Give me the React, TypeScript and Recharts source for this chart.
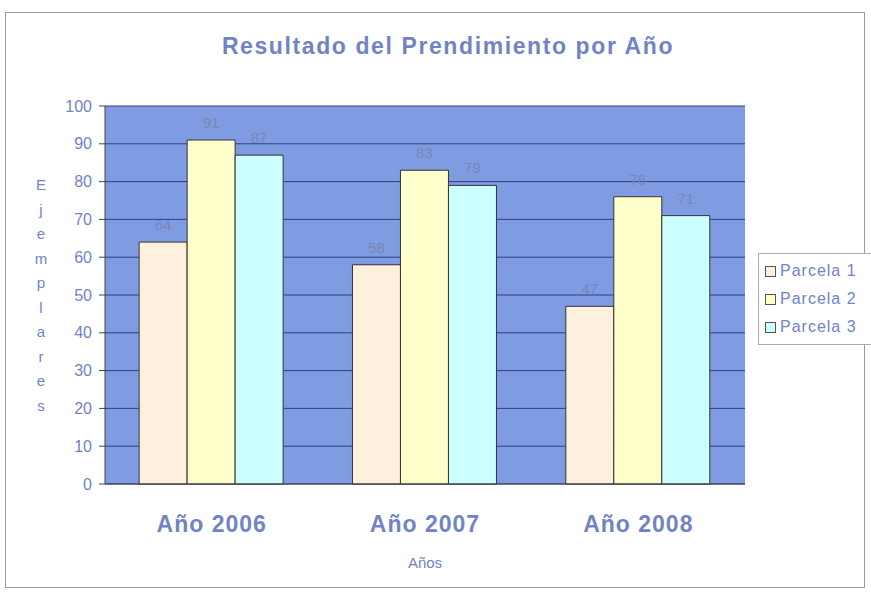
import React from "react";
import { BarChart, Bar, XAxis, YAxis, CartesianGrid, LabelList, Label } from "recharts";

const categories = ["Año 2006", "Año 2007", "Año 2008"];
const parcela1 = [64, 58, 47];
const parcela2 = [91, 83, 76];
const parcela3 = [87, 79, 71];
const yTicks = [0, 10, 20, 30, 40, 50, 60, 70, 80, 90, 100];
const seriesNames = ["Parcela 1", "Parcela 2", "Parcela 3"];
const seriesColors = ["#fdf1de", "#ffffcc", "#ccffff"];
const yTitle = "Ejemplares";

const data = categories.map((c, i) => ({
  name: c,
  p1: parcela1[i],
  p2: parcela2[i],
  p3: parcela3[i],
}));

const textBlue = "#7283c4";
const font = "Arial, 'Liberation Sans', sans-serif";

const VerticalLetters = () => {
  const letters = yTitle.split("");
  const x = 41;
  const startY = 190;
  const step = 24.5;
  return (
    <g>
      {letters.map((ch, i) => (
        <text key={i} x={x} y={startY + i * step} textAnchor="middle" fill={textBlue} fontSize={15} fontFamily={font}>
          {ch}
        </text>
      ))}
    </g>
  );
};

const LegendBox = () => (
  <div
    style={{
      position: "absolute",
      left: 758,
      top: 253,
      width: 120,
      border: "1px solid #aaaaaa",
      background: "#ffffff",
      padding: "3px 0 3px 6px",
      boxSizing: "border-box",
    }}
  >
    {seriesNames.map((n, i) => (
      <div key={n} style={{ display: "flex", alignItems: "center", height: 28, fontFamily: font, fontSize: 16, color: textBlue, letterSpacing: 1, whiteSpace: "nowrap" }}>
        <span style={{ display: "inline-block", width: 9, height: 9, border: "1px solid #555", background: seriesColors[i], marginRight: 4 }} />
        {n}
      </div>
    ))}
  </div>
);

export default function App() {
  return (
    <div style={{ position: "absolute", left: 0, top: 0, width: 871, height: 593, background: "#fff", overflow: "hidden" }}>
      <div style={{ position: "absolute", left: 5, top: 12, width: 858, height: 574, border: "1px solid #9a9a9a" }} />
      <div
        style={{
          position: "absolute",
          left: 0,
          top: 33,
          width: 896,
          textAlign: "center",
          fontFamily: font,
          fontWeight: "bold",
          fontSize: 23,
          color: textBlue,
          letterSpacing: 1.6,
        }}
      >
        Resultado del Prendimiento por Año
      </div>
      <BarChart
        width={871}
        height={593}
        data={data}
        margin={{ top: 106, right: 126, bottom: 79, left: 45 }}
        barCategoryGap="16%"
        barGap={0}
        style={{ position: "absolute", left: 0, top: 0 }}
      >
        <CartesianGrid vertical={false} fill="#7f9be2" stroke="#2e3f86" strokeWidth={1} />
        <XAxis
          dataKey="name"
          height={30}
          axisLine={{ stroke: "#444" }}
          tickLine={false}
          tick={{ fill: textBlue, fontSize: 23, fontWeight: "bold", fontFamily: font, letterSpacing: 1 }}
          tickMargin={26}
        >
          <Label value="Años" position="bottom" offset={43} fill={textBlue} fontSize={15} fontFamily={font} />
        </XAxis>
        <YAxis
          domain={[0, 100]}
          ticks={yTicks}
          width={60}
          axisLine={{ stroke: "#444" }}
          tickLine={{ stroke: "#444" }}
          tickSize={6}
          tick={{ fill: textBlue, fontSize: 16, fontFamily: font }}
          tickMargin={7}
        >
          <Label content={<VerticalLetters />} />
        </YAxis>
        <YAxis yAxisId="r" orientation="right" width={0} tick={false} tickLine={false} axisLine={{ stroke: "#666" }} />
        <Bar dataKey="p1" name={seriesNames[0]} fill={seriesColors[0]} stroke="#333" strokeWidth={1} isAnimationActive={false}>
          <LabelList dataKey="p1" position="top" fill="#7a86b8" fontSize={15} fontFamily={font} offset={12} />
        </Bar>
        <Bar dataKey="p2" name={seriesNames[1]} fill={seriesColors[1]} stroke="#333" strokeWidth={1} isAnimationActive={false}>
          <LabelList dataKey="p2" position="top" fill="#7a86b8" fontSize={15} fontFamily={font} offset={12} />
        </Bar>
        <Bar dataKey="p3" name={seriesNames[2]} fill={seriesColors[2]} stroke="#333" strokeWidth={1} isAnimationActive={false}>
          <LabelList dataKey="p3" position="top" fill="#7a86b8" fontSize={15} fontFamily={font} offset={12} />
        </Bar>
      </BarChart>
      <LegendBox />
    </div>
  );
}
